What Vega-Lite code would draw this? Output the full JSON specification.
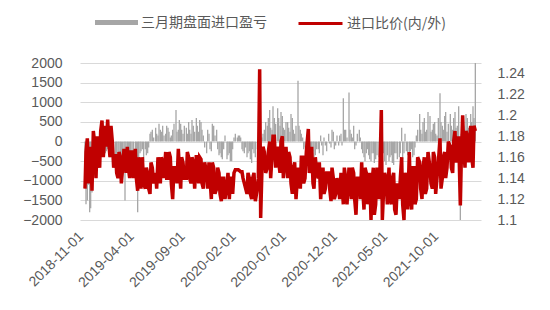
{
  "$schema": "https://vega.github.io/schema/vega-lite/v6.json",
  "width": 401,
  "height": 157,
  "autosize": {"type": "none"},
  "padding": {"left": 80, "top": 63, "right": 69, "bottom": 90},
  "background": "white",
  "config": {
    "view": {"stroke": null},
    "font": "Liberation Sans",
    "axis": {"labelColor": "#595959", "labelFontSize": 14, "domain": false, "ticks": false, "titlePadding": 0},
    "legend": {"labelColor": "#595959", "labelFontSize": 14, "labelFont": "Noto Sans CJK SC", "padding": 0, "labelOffset": 3}
  },
  "data": {
    "format": {"parse": {"d": "date:'%Y-%m-%d'"}},
    "values": [
      {"d":"2018-11-01","p":-1200,"r":1.13},{"d":"2018-11-04","p":-1600,"r":1.165},{"d":"2018-11-08","p":-1500,"r":1.178},{"d":"2018-11-11","p":-1100,"r":1.135},{"d":"2018-11-15","p":-1800,"r":1.145},{"d":"2018-11-18","p":-1700,"r":1.17},{"d":"2018-11-22","p":-1300,"r":1.128},{"d":"2018-11-26","p":-900,"r":1.185},
      {"d":"2018-12-01","p":-900,"r":1.17},{"d":"2018-12-04","p":-700,"r":1.14},{"d":"2018-12-08","p":-600,"r":1.18},{"d":"2018-12-11","p":-500,"r":1.155},{"d":"2018-12-15","p":-400,"r":1.15},{"d":"2018-12-18","p":-350,"r":1.185},{"d":"2018-12-22","p":-300,"r":1.195},{"d":"2018-12-26","p":-250,"r":1.16},
      {"d":"2019-01-01","p":-300,"r":1.19},{"d":"2019-01-04","p":-250,"r":1.17},{"d":"2019-01-08","p":-200,"r":1.196},{"d":"2019-01-11","p":-350,"r":1.175},{"d":"2019-01-15","p":-400,"r":1.16},{"d":"2019-01-18","p":-300,"r":1.19},{"d":"2019-01-22","p":-350,"r":1.175},{"d":"2019-01-26","p":-450,"r":1.15},
      {"d":"2019-02-01","p":-450,"r":1.163},{"d":"2019-02-04","p":-500,"r":1.145},{"d":"2019-02-08","p":-500,"r":1.14},{"d":"2019-02-11","p":-450,"r":1.165},{"d":"2019-02-15","p":-480,"r":1.16},{"d":"2019-02-18","p":-400,"r":1.135},{"d":"2019-02-22","p":-400,"r":1.15},{"d":"2019-02-26","p":-500,"r":1.168},
      {"d":"2019-03-01","p":-1500,"r":1.16},{"d":"2019-03-04","p":-600,"r":1.145},{"d":"2019-03-08","p":-500,"r":1.17},{"d":"2019-03-11","p":-400,"r":1.15},{"d":"2019-03-15","p":-450,"r":1.14},{"d":"2019-03-18","p":-500,"r":1.165},{"d":"2019-03-22","p":-400,"r":1.165},{"d":"2019-03-26","p":-350,"r":1.14},
      {"d":"2019-04-01","p":-350,"r":1.168},{"d":"2019-04-04","p":-800,"r":1.14},{"d":"2019-04-08","p":-1800,"r":1.128},{"d":"2019-04-11","p":-400,"r":1.16},{"d":"2019-04-15","p":-300,"r":1.145},{"d":"2019-04-18","p":-250,"r":1.13},{"d":"2019-04-22","p":-200,"r":1.16},{"d":"2019-04-26","p":-500,"r":1.135},
      {"d":"2019-05-01","p":-200,"r":1.13},{"d":"2019-05-04","p":-350,"r":1.15},{"d":"2019-05-08","p":-300,"r":1.145},{"d":"2019-05-11","p":-150,"r":1.13},{"d":"2019-05-15","p":200,"r":1.125},{"d":"2019-05-18","p":250,"r":1.155},{"d":"2019-05-22","p":300,"r":1.15},{"d":"2019-05-26","p":100,"r":1.135},
      {"d":"2019-06-01","p":350,"r":1.145},{"d":"2019-06-04","p":200,"r":1.13},{"d":"2019-06-08","p":150,"r":1.16},{"d":"2019-06-11","p":450,"r":1.145},{"d":"2019-06-15","p":300,"r":1.135},{"d":"2019-06-18","p":250,"r":1.16},{"d":"2019-06-22","p":400,"r":1.155},{"d":"2019-06-26","p":150,"r":1.14},
      {"d":"2019-07-01","p":200,"r":1.165},{"d":"2019-07-04","p":400,"r":1.14},{"d":"2019-07-08","p":350,"r":1.14},{"d":"2019-07-11","p":250,"r":1.165},{"d":"2019-07-15","p":100,"r":1.16},{"d":"2019-07-18","p":150,"r":1.135},{"d":"2019-07-22","p":300,"r":1.12},{"d":"2019-07-26","p":450,"r":1.15},
      {"d":"2019-08-01","p":800,"r":1.15},{"d":"2019-08-04","p":250,"r":1.135},{"d":"2019-08-08","p":300,"r":1.168},{"d":"2019-08-11","p":550,"r":1.15},{"d":"2019-08-15","p":450,"r":1.13},{"d":"2019-08-18","p":300,"r":1.16},{"d":"2019-08-22","p":200,"r":1.155},{"d":"2019-08-26","p":400,"r":1.14},
      {"d":"2019-09-01","p":350,"r":1.14},{"d":"2019-09-04","p":200,"r":1.165},{"d":"2019-09-08","p":500,"r":1.16},{"d":"2019-09-11","p":300,"r":1.14},{"d":"2019-09-15","p":200,"r":1.135},{"d":"2019-09-18","p":550,"r":1.16},{"d":"2019-09-22","p":400,"r":1.155},{"d":"2019-09-26","p":250,"r":1.13},
      {"d":"2019-10-01","p":600,"r":1.162},{"d":"2019-10-04","p":400,"r":1.145},{"d":"2019-10-08","p":250,"r":1.135},{"d":"2019-10-11","p":550,"r":1.16},{"d":"2019-10-15","p":500,"r":1.158},{"d":"2019-10-18","p":300,"r":1.135},{"d":"2019-10-22","p":150,"r":1.13},{"d":"2019-10-26","p":-150,"r":1.155},
      {"d":"2019-11-01","p":-300,"r":1.145},{"d":"2019-11-04","p":300,"r":1.13},{"d":"2019-11-08","p":200,"r":1.155},{"d":"2019-11-11","p":-200,"r":1.14},{"d":"2019-11-15","p":-250,"r":1.12},{"d":"2019-11-18","p":450,"r":1.155},{"d":"2019-11-22","p":400,"r":1.15},{"d":"2019-11-26","p":150,"r":1.125},
      {"d":"2019-12-01","p":300,"r":1.13},{"d":"2019-12-04","p":-200,"r":1.15},{"d":"2019-12-08","p":-350,"r":1.145},{"d":"2019-12-11","p":-300,"r":1.125},{"d":"2019-12-15","p":-400,"r":1.118},{"d":"2019-12-18","p":-450,"r":1.14},{"d":"2019-12-22","p":-200,"r":1.14},{"d":"2019-12-26","p":150,"r":1.12},
      {"d":"2020-01-01","p":-450,"r":1.135},{"d":"2020-01-04","p":-350,"r":1.145},{"d":"2020-01-08","p":-300,"r":1.12},{"d":"2020-01-11","p":-500,"r":1.14},{"d":"2020-01-15","p":-500,"r":1.14},{"d":"2020-01-18","p":-200,"r":1.125},{"d":"2020-01-22","p":100,"r":1.145},{"d":"2020-01-26","p":200,"r":1.148},
      {"d":"2020-02-01","p":100,"r":1.148},{"d":"2020-02-04","p":150,"r":1.148},{"d":"2020-02-08","p":150,"r":1.147},{"d":"2020-02-11","p":100,"r":1.146},{"d":"2020-02-15","p":-200,"r":1.146},{"d":"2020-02-18","p":-250,"r":1.14},{"d":"2020-02-22","p":-300,"r":1.135},{"d":"2020-02-26","p":-150,"r":1.13},
      {"d":"2020-03-01","p":-400,"r":1.125},{"d":"2020-03-04","p":-300,"r":1.145},{"d":"2020-03-08","p":-250,"r":1.14},{"d":"2020-03-11","p":-450,"r":1.125},{"d":"2020-03-15","p":-550,"r":1.12},{"d":"2020-03-18","p":-200,"r":1.14},{"d":"2020-03-22","p":-300,"r":1.145},{"d":"2020-03-26","p":-400,"r":1.118},
      {"d":"2020-04-01","p":-200,"r":1.13},{"d":"2020-04-04","p":-150,"r":1.14},{"d":"2020-04-08","p":0,"r":1.244},{"d":"2020-04-11","p":-100,"r":1.102},{"d":"2020-04-15","p":100,"r":1.15},{"d":"2020-04-18","p":200,"r":1.17},{"d":"2020-04-22","p":300,"r":1.165},{"d":"2020-04-26","p":500,"r":1.145},
      {"d":"2020-05-01","p":400,"r":1.15},{"d":"2020-05-04","p":600,"r":1.165},{"d":"2020-05-08","p":800,"r":1.175},{"d":"2020-05-11","p":350,"r":1.14},{"d":"2020-05-15","p":300,"r":1.16},{"d":"2020-05-18","p":900,"r":1.18},{"d":"2020-05-22","p":600,"r":1.18},{"d":"2020-05-26","p":450,"r":1.15},
      {"d":"2020-06-01","p":850,"r":1.17},{"d":"2020-06-04","p":600,"r":1.155},{"d":"2020-06-08","p":400,"r":1.145},{"d":"2020-06-11","p":750,"r":1.175},{"d":"2020-06-15","p":650,"r":1.18},{"d":"2020-06-18","p":350,"r":1.14},{"d":"2020-06-22","p":300,"r":1.155},{"d":"2020-06-26","p":500,"r":1.17},
      {"d":"2020-07-01","p":500,"r":1.14},{"d":"2020-07-04","p":350,"r":1.165},{"d":"2020-07-08","p":250,"r":1.16},{"d":"2020-07-11","p":700,"r":1.135},{"d":"2020-07-15","p":600,"r":1.125},{"d":"2020-07-18","p":300,"r":1.15},{"d":"2020-07-22","p":200,"r":1.155},{"d":"2020-07-26","p":400,"r":1.12},
      {"d":"2020-08-01","p":1550,"r":1.15},{"d":"2020-08-04","p":400,"r":1.14},{"d":"2020-08-08","p":300,"r":1.13},{"d":"2020-08-11","p":200,"r":1.16},{"d":"2020-08-15","p":100,"r":1.16},{"d":"2020-08-18","p":-200,"r":1.135},{"d":"2020-08-22","p":-150,"r":1.14},{"d":"2020-08-26","p":-300,"r":1.165},
      {"d":"2020-09-01","p":-300,"r":1.187},{"d":"2020-09-04","p":-450,"r":1.145},{"d":"2020-09-08","p":-400,"r":1.15},{"d":"2020-09-11","p":-300,"r":1.17},{"d":"2020-09-15","p":-250,"r":1.135},{"d":"2020-09-18","p":-400,"r":1.13},{"d":"2020-09-22","p":-350,"r":1.16},{"d":"2020-09-26","p":-200,"r":1.145},
      {"d":"2020-10-01","p":-200,"r":1.14},{"d":"2020-10-04","p":-300,"r":1.155},{"d":"2020-10-08","p":150,"r":1.12},{"d":"2020-10-11","p":-100,"r":1.135},{"d":"2020-10-15","p":-350,"r":1.15},{"d":"2020-10-18","p":100,"r":1.125},{"d":"2020-10-22","p":-100,"r":1.13},{"d":"2020-10-26","p":-250,"r":1.145},
      {"d":"2020-11-01","p":200,"r":1.145},{"d":"2020-11-04","p":-50,"r":1.13},{"d":"2020-11-08","p":-150,"r":1.118},{"d":"2020-11-11","p":300,"r":1.15},{"d":"2020-11-15","p":250,"r":1.14},{"d":"2020-11-18","p":-200,"r":1.12},{"d":"2020-11-22","p":-100,"r":1.125},{"d":"2020-11-26","p":150,"r":1.14},
      {"d":"2020-12-01","p":-100,"r":1.13},{"d":"2020-12-04","p":150,"r":1.12},{"d":"2020-12-08","p":200,"r":1.145},{"d":"2020-12-11","p":-100,"r":1.135},{"d":"2020-12-15","p":1100,"r":1.115},{"d":"2020-12-18","p":300,"r":1.15},{"d":"2020-12-22","p":300,"r":1.14},{"d":"2020-12-26","p":100,"r":1.115},
      {"d":"2021-01-01","p":1250,"r":1.15},{"d":"2021-01-04","p":300,"r":1.135},{"d":"2021-01-08","p":200,"r":1.12},{"d":"2021-01-11","p":100,"r":1.15},{"d":"2021-01-15","p":400,"r":1.145},{"d":"2021-01-18","p":-200,"r":1.12},{"d":"2021-01-22","p":-100,"r":1.105},{"d":"2021-01-26","p":200,"r":1.14},
      {"d":"2021-02-01","p":300,"r":1.14},{"d":"2021-02-04","p":100,"r":1.12},{"d":"2021-02-08","p":-200,"r":1.155},{"d":"2021-02-11","p":-300,"r":1.13},{"d":"2021-02-15","p":-400,"r":1.11},{"d":"2021-02-18","p":-500,"r":1.15},{"d":"2021-02-22","p":-300,"r":1.145},{"d":"2021-02-26","p":-200,"r":1.115},
      {"d":"2021-03-01","p":-350,"r":1.13},{"d":"2021-03-04","p":-450,"r":1.145},{"d":"2021-03-08","p":-500,"r":1.10},{"d":"2021-03-11","p":-300,"r":1.135},{"d":"2021-03-15","p":-300,"r":1.15},{"d":"2021-03-18","p":-550,"r":1.105},{"d":"2021-03-22","p":-450,"r":1.115},{"d":"2021-03-26","p":-350,"r":1.15},
      {"d":"2021-04-01","p":-400,"r":1.12},{"d":"2021-04-04","p":-300,"r":1.15},{"d":"2021-04-08","p":-550,"r":1.205},{"d":"2021-04-11","p":-450,"r":1.10},{"d":"2021-04-15","p":-300,"r":1.13},{"d":"2021-04-18","p":-500,"r":1.145},{"d":"2021-04-22","p":-600,"r":1.14},{"d":"2021-04-26","p":-350,"r":1.115},
      {"d":"2021-05-01","p":-500,"r":1.15},{"d":"2021-05-04","p":-400,"r":1.12},{"d":"2021-05-08","p":-350,"r":1.115},{"d":"2021-05-11","p":-550,"r":1.14},{"d":"2021-05-15","p":-600,"r":1.145},{"d":"2021-05-18","p":-300,"r":1.11},{"d":"2021-05-22","p":-300,"r":1.105},{"d":"2021-05-26","p":-450,"r":1.135},
      {"d":"2021-06-01","p":-400,"r":1.12},{"d":"2021-06-04","p":-300,"r":1.14},{"d":"2021-06-08","p":350,"r":1.16},{"d":"2021-06-11","p":-450,"r":1.115},{"d":"2021-06-15","p":-300,"r":1.10},{"d":"2021-06-18","p":200,"r":1.145},{"d":"2021-06-22","p":-250,"r":1.14},{"d":"2021-06-26","p":-350,"r":1.11},
      {"d":"2021-07-01","p":-300,"r":1.165},{"d":"2021-07-04","p":-250,"r":1.125},{"d":"2021-07-08","p":-200,"r":1.11},{"d":"2021-07-11","p":-400,"r":1.15},{"d":"2021-07-15","p":-350,"r":1.15},{"d":"2021-07-18","p":-150,"r":1.115},{"d":"2021-07-22","p":150,"r":1.12},{"d":"2021-07-26","p":300,"r":1.16},
      {"d":"2021-08-01","p":700,"r":1.155},{"d":"2021-08-04","p":300,"r":1.13},{"d":"2021-08-08","p":200,"r":1.12},{"d":"2021-08-11","p":500,"r":1.15},{"d":"2021-08-15","p":600,"r":1.16},{"d":"2021-08-18","p":250,"r":1.125},{"d":"2021-08-22","p":300,"r":1.13},{"d":"2021-08-26","p":750,"r":1.165},
      {"d":"2021-09-01","p":650,"r":1.15},{"d":"2021-09-04","p":250,"r":1.135},{"d":"2021-09-08","p":300,"r":1.13},{"d":"2021-09-11","p":450,"r":1.165},{"d":"2021-09-15","p":500,"r":1.16},{"d":"2021-09-18","p":200,"r":1.125},{"d":"2021-09-22","p":150,"r":1.14},{"d":"2021-09-26","p":600,"r":1.155},
      {"d":"2021-10-01","p":1230,"r":1.178},{"d":"2021-10-04","p":500,"r":1.13},{"d":"2021-10-08","p":400,"r":1.14},{"d":"2021-10-11","p":300,"r":1.16},{"d":"2021-10-15","p":650,"r":1.165},{"d":"2021-10-18","p":750,"r":1.14},{"d":"2021-10-22","p":250,"r":1.15},{"d":"2021-10-26","p":450,"r":1.175},
      {"d":"2021-11-01","p":700,"r":1.17},{"d":"2021-11-04","p":400,"r":1.15},{"d":"2021-11-08","p":300,"r":1.145},{"d":"2021-11-11","p":600,"r":1.175},{"d":"2021-11-15","p":750,"r":1.185},{"d":"2021-11-18","p":350,"r":1.155},{"d":"2021-11-22","p":400,"r":1.16},{"d":"2021-11-26","p":900,"r":1.18},
      {"d":"2021-12-01","p":-2000,"r":1.114},{"d":"2021-12-04","p":200,"r":1.16},{"d":"2021-12-08","p":500,"r":1.20},{"d":"2021-12-11","p":400,"r":1.17},{"d":"2021-12-15","p":300,"r":1.15},{"d":"2021-12-18","p":700,"r":1.185},{"d":"2021-12-22","p":600,"r":1.18},{"d":"2021-12-26","p":350,"r":1.155},
      {"d":"2022-01-01","p":700,"r":1.19},{"d":"2022-01-04","p":500,"r":1.16},{"d":"2022-01-08","p":900,"r":1.15},{"d":"2022-01-11","p":600,"r":1.19},{"d":"2022-01-15","p":2000,"r":1.185}
    ]
  },
  "encoding": {
    "x": {
      "field": "d", "type": "temporal",
      "scale": {"domain": [{"year": 2018, "month": 11, "date": 1}, {"year": 2022, "month": 1, "date": 17}]},
      "axis": {
        "title": null, "grid": false, "labelAngle": -45, "labelAlign": "right", "labelBaseline": "middle",
        "labelPadding": 14, "labelOffset": -4, "format": "%Y-%m-%d", "labelOverlap": false,
        "values": [
          {"year": 2018, "month": 11, "date": 1}, {"year": 2019, "month": 4, "date": 1},
          {"year": 2019, "month": 9, "date": 1}, {"year": 2020, "month": 2, "date": 1},
          {"year": 2020, "month": 7, "date": 1}, {"year": 2020, "month": 12, "date": 1},
          {"year": 2021, "month": 5, "date": 1}, {"year": 2021, "month": 10, "date": 1}
        ]
      }
    }
  },
  "layer": [
    {
      "mark": {"type": "bar", "size": 1.3},
      "encoding": {
        "y": {
          "field": "p", "type": "quantitative",
          "scale": {"domain": [-2000, 2000], "nice": false},
          "axis": {"title": null, "orient": "left", "values": [-2000, -1500, -1000, -500, 0, 500, 1000, 1500, 2000], "format": "d", "grid": true, "gridColor": "#d9d9d9", "gridWidth": 1, "labelPadding": 18}
        },
        "fill": {
          "datum": "三月期盘面进口盈亏",
          "scale": {"range": ["#a6a6a6"]},
          "legend": {"title": null, "orient": "none", "legendX": 15, "legendY": -62, "symbolType": "M-1,-0.12H1V0.12H-1Z", "symbolSize": 1849, "symbolStrokeWidth": 0}
        }
      }
    },
    {
      "mark": {"type": "line", "strokeWidth": 3.5, "interpolate": "linear"},
      "encoding": {
        "y": {
          "field": "r", "type": "quantitative",
          "scale": {"domain": [1.1, 1.25], "nice": false, "zero": false},
          "axis": {"title": null, "orient": "right", "values": [1.1, 1.12, 1.14, 1.16, 1.18, 1.2, 1.22, 1.24], "format": ".2~f", "grid": false, "labelPadding": 16}
        },
        "stroke": {
          "datum": "进口比价(内/外)",
          "scale": {"range": ["#c00000"]},
          "legend": {"title": null, "orient": "none", "legendX": 217, "legendY": -63, "symbolType": "stroke", "symbolSize": 1936, "symbolStrokeWidth": 3}
        }
      }
    }
  ],
  "resolve": {"scale": {"y": "independent"}}
}
